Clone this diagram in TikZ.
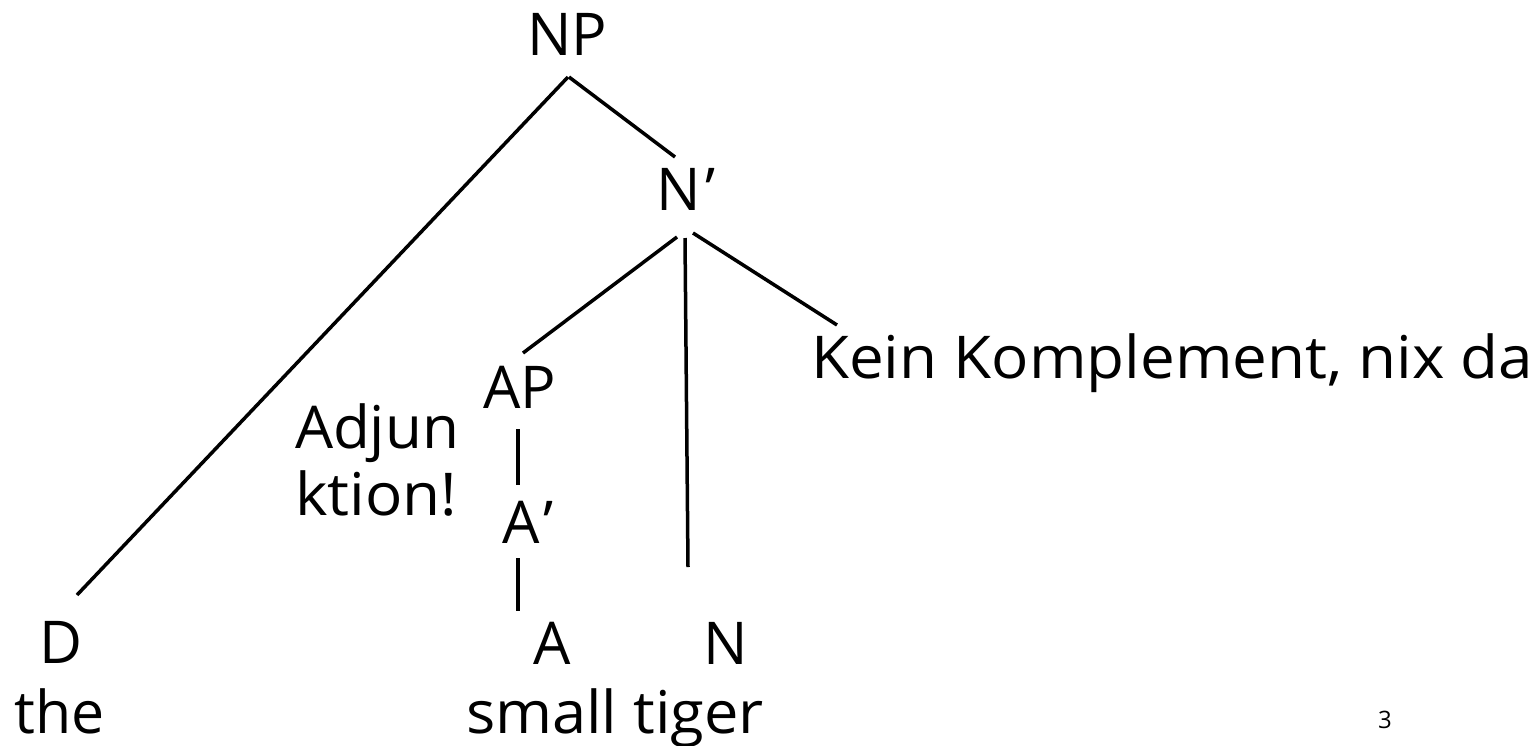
\documentclass[tikz,border=0pt]{standalone}
\usepackage{fontspec}
\setmainfont{Open Sans}
\usetikzlibrary{calc}
\tikzset{
  lbl/.style={inner sep=0pt, outer sep=0pt, font=\fontsize{59}{70}\selectfont},
  edge/.style={line width=3.5pt, black},
}
\newcommand{\wider}[2]{\scalebox{#1}[1]{#2}}
\begin{document}
\begin{tikzpicture}[x=1pt, y=-1pt]
\useasboundingbox (0,0) rectangle (1539,745);

% category labels
\node[lbl, anchor=base] (np)  at (567,55)  {NP};
\node[lbl, anchor=base] (nb)  at (686,210) {N\kern4pt’};
\node[lbl, anchor=base] (ap)  at (520,408) {AP};
\node[lbl, anchor=base] (ab)  at (528,543) {A\kern4pt’};
\node[lbl, anchor=base] (a)   at (552,664) {A};
\node[lbl, anchor=base] (n)   at (726,664) {N};
\node[lbl, anchor=base] (d)   at (61,663)  {D};

% words and remarks
\node[lbl, anchor=base] (the) at (60,733) {the};
\node[lbl, anchor=base west] (words) at (466,733) {\wider{1.04}{small tiger}};
\node[lbl, anchor=base west] (kein) at (811,378) {\wider{1.05}{Kein Komplement, nix da}};
\node[lbl, anchor=base west] (adj1) at (295,448) {\wider{1.02}{Adjun}};
\node[lbl, anchor=base west] (adj2) at (295,515) {\wider{1.05}{ktion!}};
\node[anchor=base west, inner sep=0pt, font=\fontsize{24}{28}\selectfont] (page) at (1378,728) {3};

% branches
\draw[edge] ($(np.base)+(1,22)$)  -- ($(d.base)+(16,-68)$);
\draw[edge] ($(np.base)+(2,22)$)  -- ($(nb.base)+(-11,-53)$);
\draw[edge] ($(nb.base)+(-9,27)$) -- ($(ap.base)+(3,-55)$);
\draw[edge] ($(nb.base)+(-1,28)$) -- ($(n.base)+(-38,-97)$);
\draw[edge] ($(nb.base)+(7,23)$)  -- ($(kein.base west)+(26,-53)$);
\draw[edge] ($(ap.base)+(-2,21)$) -- ($(ab.base)+(-10,-58)$);
\draw[edge] ($(ab.base)+(-10,15)$) -- ($(a.base)+(-34,-53)$);
\end{tikzpicture}
\end{document}
